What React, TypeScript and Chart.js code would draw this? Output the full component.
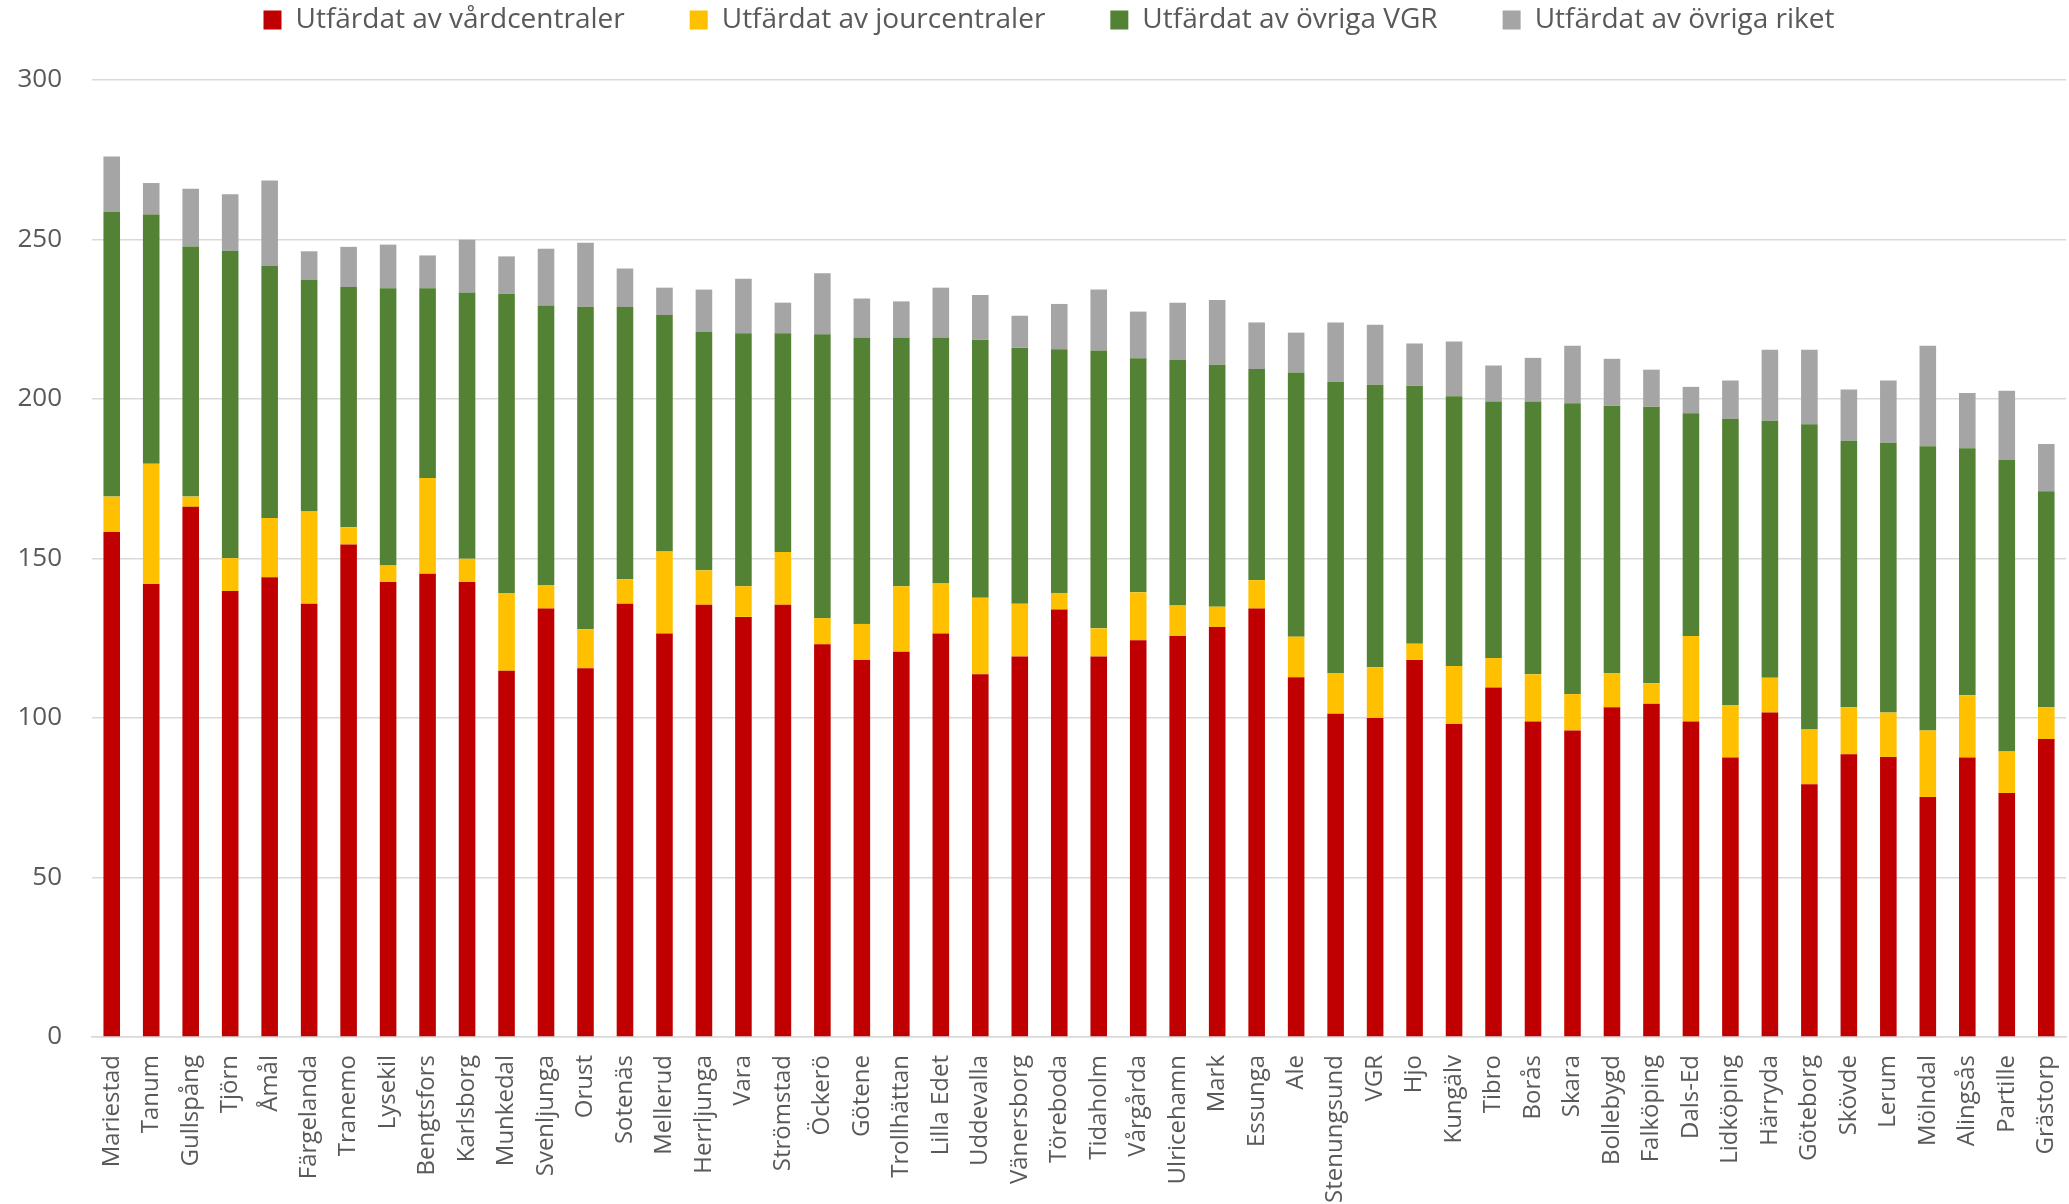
import React, { useEffect, useRef } from "react";
import { Chart, registerables } from "chart.js";

Chart.register(...registerables);

const categories = [
  "Mariestad", "Tanum", "Gullspång", "Tjörn", "Åmål", "Färgelanda", "Tranemo", "Lysekil", "Bengtsfors", "Karlsborg",
  "Munkedal", "Svenljunga", "Orust", "Sotenäs", "Mellerud", "Herrljunga", "Vara", "Strömstad", "Öckerö", "Götene",
  "Trollhättan", "Lilla Edet", "Uddevalla", "Vänersborg", "Töreboda", "Tidaholm", "Vårgårda", "Ulricehamn", "Mark", "Essunga",
  "Ale", "Stenungsund", "VGR", "Hjo", "Kungälv", "Tibro", "Borås", "Skara", "Bollebygd", "Falköping",
  "Dals-Ed", "Lidköping", "Härryda", "Göteborg", "Skövde", "Lerum", "Mölndal", "Alingsås", "Partille", "Grästorp",
];

const vardcentraler = [
  158.3, 142.0, 166.2, 139.8, 144.1, 135.8, 154.4, 142.6, 145.2, 142.6,
  114.8, 134.3, 115.6, 135.8, 126.5, 135.5, 131.7, 135.5, 123.1, 118.2,
  120.8, 126.5, 113.7, 119.3, 134.0, 119.3, 124.4, 125.7, 128.5, 134.3,
  112.8, 101.3, 100.0, 118.2, 98.1, 109.6, 98.9, 96.1, 103.4, 104.5,
  98.9, 87.6, 101.7, 79.2, 88.6, 87.8, 75.2, 87.6, 76.5, 93.4,
];

const jourcentraler = [
  11.1, 37.7, 3.2, 10.3, 18.6, 28.9, 5.4, 5.2, 30.0, 7.3,
  24.4, 7.4, 12.2, 7.7, 25.7, 10.8, 9.6, 16.5, 8.2, 11.3,
  20.5, 15.7, 24.0, 16.5, 5.2, 8.8, 15.0, 9.6, 6.4, 8.9,
  12.7, 12.8, 15.9, 5.1, 18.2, 9.2, 14.8, 11.4, 10.7, 6.4,
  26.8, 16.5, 10.9, 17.2, 14.8, 13.9, 20.9, 19.5, 13.0, 10.0,
];

const ovrigaVGR = [
  89.3, 78.1, 78.4, 96.4, 79.0, 72.8, 75.3, 86.9, 59.5, 83.5,
  93.8, 87.6, 101.1, 85.4, 74.1, 74.7, 79.3, 68.6, 89.0, 89.8,
  78.0, 77.1, 80.9, 80.3, 76.4, 87.1, 73.4, 76.9, 75.8, 66.2,
  82.8, 91.3, 88.6, 80.8, 84.6, 80.4, 85.4, 91.2, 83.8, 86.7,
  69.8, 89.7, 80.6, 95.7, 83.5, 84.6, 89.1, 77.5, 91.4, 67.7,
];

const ovrigaRiket = [
  17.3, 9.9, 18.1, 17.7, 26.8, 8.8, 12.6, 13.7, 10.3, 16.5,
  11.7, 17.8, 20.1, 12.0, 8.6, 13.3, 17.1, 9.6, 19.1, 12.2,
  11.3, 15.6, 14.0, 10.0, 14.2, 19.1, 14.6, 18.0, 20.3, 14.6,
  12.5, 18.6, 18.8, 13.3, 17.1, 11.3, 13.8, 18.0, 14.7, 11.6,
  8.3, 12.0, 22.2, 23.3, 16.1, 19.5, 31.5, 17.3, 21.7, 14.8,
];

const seriesNames = [
  "Utfärdat av vårdcentraler",
  "Utfärdat av jourcentraler",
  "Utfärdat av övriga VGR",
  "Utfärdat av övriga riket",
];
const seriesColors = ["#C00000", "#FFC000", "#548235", "#A5A5A5"];
const yTicks = [0, 50, 100, 150, 200, 250, 300];

export default function App() {
  const ref = useRef<HTMLCanvasElement>(null);

  useEffect(() => {
    document.body.style.margin = "0";
    document.body.style.overflow = "hidden";
    const canvas = ref.current;
    if (!canvas) return;
    const family = "'Open Sans', sans-serif";
    const textColor = "#595959";
    const gridColor = "#D9D9D9";

    const legendTweak = {
      id: "legendTweak",
      beforeInit(chart: any) {
        const lg = chart.legend;
        if (!lg) return;
        const origFit = lg.fit.bind(lg);
        lg.fit = function () {
          origFit();
          this.height = 80;
        };
        const origDraw = lg.draw.bind(lg);
        lg.draw = function () {
          const ctx = this.ctx;
          const savedTop = this.top;
          this.top = savedTop - 59;
          ctx.save();
          ctx.translate(16, 0);
          origDraw();
          ctx.restore();
          this.top = savedTop;
        };
      },
    };

    const allSeries = [vardcentraler, jourcentraler, ovrigaVGR, ovrigaRiket];

    const chart = new Chart(canvas, {
      type: "bar",
      data: {
        labels: categories,
        datasets: allSeries.map((d, i) => ({
          label: seriesNames[i],
          data: d,
          backgroundColor: seriesColors[i],
          borderWidth: 0,
          categoryPercentage: 1,
          barPercentage: 0.42,
        })),
      },
      options: {
        responsive: false,
        animation: false,
        layout: { padding: { left: 0, right: 3, top: 0, bottom: 0 } },
        plugins: {
          legend: {
            position: "top",
            labels: {
              boxWidth: 18,
              boxHeight: 19,
              padding: 65,
              color: textColor,
              font: { family, size: 28 },
            },
          },
          tooltip: { enabled: false },
        },
        scales: {
          x: {
            stacked: true,
            grid: { display: false, drawTicks: false },
            border: { display: true, color: gridColor, width: 1.5 },
            ticks: {
              autoSkip: false,
              maxRotation: 90,
              minRotation: 90,
              padding: 18,
              color: textColor,
              font: { family, size: 24 },
            },
            afterFit(s: any) {
              s.height = 167;
              s.paddingLeft = 0;
              s.paddingRight = 0;
            },
          },
          y: {
            stacked: true,
            min: 0,
            max: 300,
            afterBuildTicks(s: any) {
              s.ticks = yTicks.map((v) => ({ value: v }));
            },
            grid: { color: gridColor, lineWidth: 1.5, drawTicks: false },
            border: { display: false },
            ticks: {
              padding: 30,
              color: textColor,
              font: { family, size: 26 },
            },
            afterFit(s: any) {
              s.width = 92;
              s.paddingTop = 0;
              s.paddingBottom = 0;
            },
          },
        },
      },
      plugins: [legendTweak],
    });

    return () => chart.destroy();
  }, []);

  return <canvas ref={ref} width={2069} height={1204} style={{ display: "block" }} />;
}
